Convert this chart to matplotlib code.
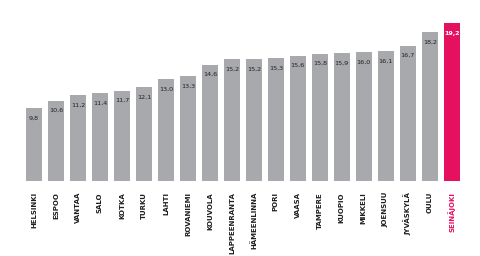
"""
Kaupunkien vertailu - pylväskaavio
"""

import matplotlib.pyplot as plt

cities = ["HELSINKI", "ESPOO", "VANTAA", "SALO", "KOTKA", "TURKU", "LAHTI",
          "ROVANIEMI", "KOUVOLA", "LAPPEENRANTA", "HÄMEENLINNA", "PORI", "VAASA",
          "TAMPERE", "KUOPIO", "MIKKELI", "JOENSUU", "JYVÄSKYLÄ", "OULU", "SEINÄJOKI"]
values = [9.8, 10.6, 11.2, 11.4, 11.7, 12.1, 13.0, 13.3, 14.6, 15.2,
          15.2, 15.3, 15.6, 15.8, 15.9, 16.0, 16.1, 16.7, 18.2, 19.2]
highlight = "SEINÄJOKI"

GRAY = "#a7a9ac"
PINK = "#e5105f"
TEXT = "#231f20"


def main():
    fig = plt.figure(figsize=(4.8, 2.56), dpi=100)
    ax = fig.add_axes([0.048, 0.293, 0.916, 0.617])

    colors = [PINK if c == highlight else GRAY for c in cities]
    x = range(len(cities))
    ax.bar(x, values, width=0.73, color=colors)

    # value labels inside the bar tops
    for xi, v, c in zip(x, values, cities):
        ax.annotate(f"{v:.1f}".replace(".", ","), (xi, v),
                    xytext=(0, -10), textcoords="offset pixels",
                    ha="center", va="center", fontsize=4.6,
                    color="white" if c == highlight else TEXT,
                    fontweight="bold" if c == highlight else "normal")

    ax.set_xlim(-0.5, len(cities) - 0.5)
    ax.set_ylim(1.7, 19.2)
    ax.set_xticks(list(x))
    ax.set_xticklabels(cities, rotation=90, fontsize=5, fontweight="bold",
                       va="top", ha="center")
    for lbl, c in zip(ax.get_xticklabels(), cities):
        lbl.set_color(PINK if c == highlight else TEXT)
    ax.tick_params(axis="x", length=0, pad=8)
    ax.set_yticks([])
    for s in ax.spines.values():
        s.set_visible(False)

    fig.savefig("out.png", dpi=100)


if __name__ == "__main__":
    main()
